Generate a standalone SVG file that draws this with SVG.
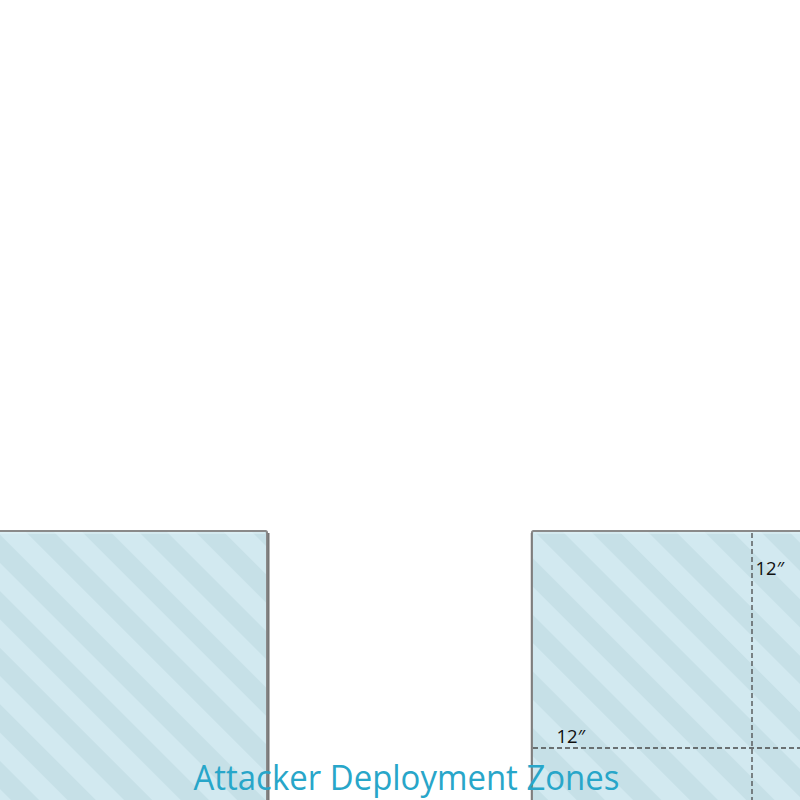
<svg xmlns="http://www.w3.org/2000/svg" width="800" height="800" viewBox="0 0 800 800">
  <defs>
    <pattern id="stripes" x="2" y="0" width="40" height="40" patternUnits="userSpaceOnUse" patternTransform="rotate(-45)">
      <rect x="0" y="0" width="40" height="40" fill="#d2e9f0"/>
      <rect x="0" y="0" width="20" height="40" fill="#c6e0e7"/>
    </pattern>
  </defs>
  <style>
    .zone { fill: url(#stripes); stroke: #8a8a8a; stroke-width: 2; }
    .inner { fill: none; stroke: #e2f2f6; stroke-width: 1; }
    .dash { stroke: #4a4a4a; stroke-width: 1.3; stroke-dasharray: 5 3; fill: none; }
    .dim { font-family: "Open Sans", "Liberation Sans", sans-serif; font-size: 18.5px; fill: #111; }
    .title { font-family: "Open Sans", "Liberation Sans", sans-serif; font-size: 34px; fill: #28a6c9; }
  </style>
  <rect width="800" height="800" fill="#ffffff"/>
  <g id="zone-left">
    <rect class="zone" x="-4" y="531" width="271" height="275" rx="1.5"/>
    <line x1="268.5" y1="533" x2="268.5" y2="800" stroke="#777" stroke-width="2"/>
    <line class="inner" x1="0" y1="533" x2="265" y2="533"/>
  </g>
  <g id="zone-right">
    <rect class="zone" x="532" y="531" width="275" height="275" rx="1.5"/>
    <line x1="531.5" y1="533" x2="531.5" y2="800" stroke="#7d7d7d" stroke-width="1.5"/>
    <line class="inner" x1="534" y1="533" x2="800" y2="533"/>
  </g>
  <g id="connectors">
    <line class="dash" x1="752" y1="533" x2="752" y2="800"/>
    <line class="dash" x1="533" y1="748" x2="800" y2="748"/>
  </g>
  <g id="labels">
    <text class="dim" x="755.5" y="575">12″</text>
    <text class="dim" x="556.5" y="743">12″</text>
    <text class="title" x="406.5" y="790" text-anchor="middle" textLength="426" lengthAdjust="spacingAndGlyphs">Attacker Deployment Zones</text>
  </g>
</svg>
